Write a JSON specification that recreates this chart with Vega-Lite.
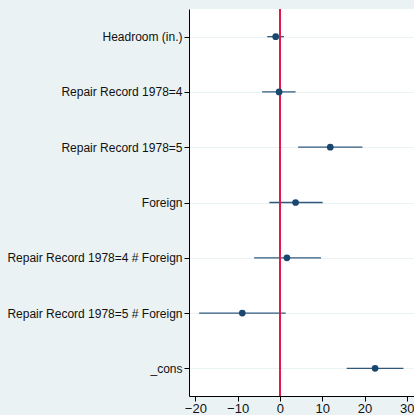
{
  "$schema": "https://vega.github.io/schema/vega-lite/v6.json",
  "autosize": "none",
  "width": 225,
  "height": 387,
  "padding": {"left": 189, "top": 9, "right": 0, "bottom": 19},
  "background": "#EAF2F3",
  "config": {
    "view": {"fill": "white", "stroke": null},
    "font": "Liberation Sans"
  },
  "data": {
    "values": [
      {"term": "Headroom (in.)", "b": -1.0, "lo": -3.0, "hi": 0.95},
      {"term": "Repair Record 1978=4", "b": -0.2, "lo": -4.2, "hi": 3.7},
      {"term": "Repair Record 1978=5", "b": 11.9, "lo": 4.3, "hi": 19.5},
      {"term": "Foreign", "b": 3.7, "lo": -2.5, "hi": 10.1},
      {"term": "Repair Record 1978=4 # Foreign", "b": 1.65, "lo": -6.1, "hi": 9.7},
      {"term": "Repair Record 1978=5 # Foreign", "b": -8.9, "lo": -19.1, "hi": 1.35},
      {"term": "_cons", "b": 22.5, "lo": 15.8, "hi": 29.2}
    ]
  },
  "encoding": {
    "y": {
      "field": "term", "type": "nominal", "sort": null,
      "scale": {"type": "point", "padding": 0.5},
      "axis": {
        "title": null, "domainColor": "black", "tickColor": "black", "tickSize": 5,
        "labelFontSize": 12, "labelColor": "#111", "labelPadding": 2, "labelLimit": 300,
        "grid": true, "gridColor": "#EAF2F3", "gridWidth": 1.2
      }
    }
  },
  "layer": [
    {
      "mark": {"type": "rule", "color": "#1A476F", "strokeWidth": 1.3, "opacity": 0.9},
      "encoding": {
        "x": {
          "field": "lo", "type": "quantitative",
          "scale": {"domain": [-21.5, 31.7], "nice": false, "zero": false},
          "axis": {
            "title": null, "values": [-20, -10, 0, 10, 20, 30], "grid": false,
            "domainColor": "black", "tickColor": "black", "tickSize": 5,
            "labelFontSize": 13, "labelColor": "#111", "labelPadding": 1, "labelFlush": false
          }
        },
        "x2": {"field": "hi"}
      }
    },
    {
      "mark": {"type": "rule", "color": "#E3194B", "strokeWidth": 1.3},
      "encoding": {"x": {"datum": 0, "type": "quantitative"}, "y": null}
    },
    {
      "mark": {"type": "point", "filled": true, "color": "#1A476F", "size": 45, "opacity": 1},
      "encoding": {"x": {"field": "b", "type": "quantitative"}}
    }
  ]
}
